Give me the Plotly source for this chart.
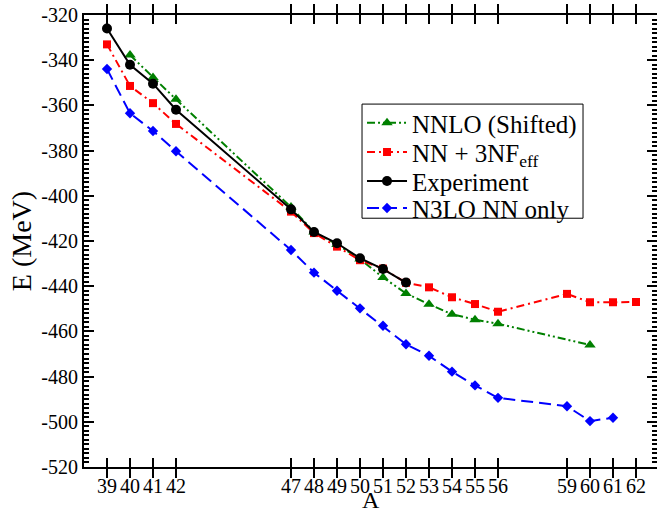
import plotly.graph_objects as go

# ---- data ----
A_exp = [39, 40, 41, 42, 47, 48, 49, 50, 51, 52]
E_exp = [-326.0, -342.0, -350.4, -361.9, -406.0, -416.0, -421.0, -427.6, -432.4, -438.4]

A_nnlo = [40, 41, 42, 47, 48, 49, 50, 51, 52, 53, 54, 55, 56, 60]
E_nnlo = [-337.7, -347.6, -357.3, -405.0, -416.0, -421.5, -428.0, -436.1, -443.2,
          -448.0, -452.4, -454.8, -456.6, -466.0]

A_3nf = [39, 40, 41, 42, 47, 48, 49, 50, 51, 52, 53, 54, 55, 56, 59, 60, 61, 62]
E_3nf = [-333.0, -351.4, -359.0, -368.2, -407.0, -416.5, -422.5, -428.5, -432.2, -438.5,
         -440.5, -444.9, -447.9, -451.3, -443.4, -447.1, -447.1, -447.0]

A_n3lo = [39, 40, 41, 42, 47, 48, 49, 50, 51, 52, 53, 54, 55, 56, 59, 60, 61]
E_n3lo = [-343.9, -363.5, -371.3, -380.3, -424.0, -434.0, -442.0, -449.8, -457.5, -465.7,
          -470.8, -477.8, -483.9, -489.4, -493.1, -499.7, -498.2]

x_ticks = [39, 40, 41, 42, 47, 48, 49, 50, 51, 52, 53, 54, 55, 56, 59, 60, 61, 62]
x_ticktext = [str(v) for v in x_ticks]
y_ticks = [-320, -340, -360, -380, -400, -420, -440, -460, -480, -500, -520]
y_ticktext = ["-320", "-340", "-360", "-380", "-400", "-420", "-440", "-460", "-480", "-500", "-520"]

FONT = "Liberation Serif"

# legend layout (paper coordinates)
LEG_X = 0.4852
LEG_ROWS = [0.7608, 0.6966, 0.6323, 0.5725]

fig = go.Figure()
fig.add_trace(go.Scatter(
    x=A_nnlo, y=E_nnlo, mode="lines+markers", name="NNLO (Shifted)", legend="legend",
    line=dict(color="#008000", width=2, dash="8px,3px,2px,3px,2px,3px"),
    marker=dict(symbol="triangle-up", size=10, color="#008000")))
fig.add_trace(go.Scatter(
    x=A_3nf, y=E_3nf, mode="lines+markers", name="NN + 3NF<sub>eff</sub>", legend="legend2",
    line=dict(color="#ff0000", width=2, dash="8px,4px,2px,4px"),
    marker=dict(symbol="square", size=8, color="#ff0000")))
fig.add_trace(go.Scatter(
    x=A_exp, y=E_exp, mode="lines+markers", name="Experiment", legend="legend3",
    line=dict(color="#000000", width=2),
    marker=dict(symbol="circle", size=10, color="#000000")))
fig.add_trace(go.Scatter(
    x=A_n3lo, y=E_n3lo, mode="lines+markers", name="N3LO NN only", legend="legend4",
    line=dict(color="#0000ff", width=2, dash="12px,6px"),
    marker=dict(symbol="diamond", size=8, color="#0000ff")))
# invisible helper trace for the right-hand tick axis
fig.add_trace(go.Scatter(x=[50], y=[-420], yaxis="y2", mode="markers",
                         marker=dict(opacity=0), showlegend=False, hoverinfo="skip"))


def leg(yc):
    return dict(x=LEG_X, y=yc, xanchor="left", yanchor="middle", borderwidth=0,
                bgcolor="rgba(0,0,0,0)", itemwidth=40,
                font=dict(family=FONT, size=25, color="black"))


fig.update_layout(
    width=657, height=509,
    margin=dict(l=84, r=0, t=15, b=42, autoexpand=False),
    paper_bgcolor="white", plot_bgcolor="white",
    font=dict(family=FONT, color="black", size=20),
    showlegend=True,
    legend=leg(LEG_ROWS[0]), legend2=leg(LEG_ROWS[1]),
    legend3=leg(LEG_ROWS[2]), legend4=leg(LEG_ROWS[3]),
    shapes=[dict(type="rect", xref="paper", yref="paper", x0=0.4852, x1=0.8709,
                 y0=0.5504, y1=0.8029, line=dict(color="black", width=1),
                 fillcolor="white", layer="below")],
    annotations=[dict(text="A", xref="paper", yref="paper", x=0.5, y=-0.073,
                      xanchor="center", yanchor="middle", showarrow=False,
                      font=dict(family=FONT, size=24, color="black"))],
    xaxis=dict(range=[38, 62.913], tickmode="array", tickvals=x_ticks, ticktext=x_ticktext,
               ticks="inside", ticklen=9, tickwidth=2, tickcolor="black",
               showline=True, linewidth=2, linecolor="black", mirror="allticks",
               showgrid=False, zeroline=False, automargin=False,
               tickfont=dict(family=FONT, size=20)),
    yaxis=dict(range=[-520, -320], tickmode="array", tickvals=y_ticks, ticktext=y_ticktext,
               ticks="inside", ticklen=10, tickwidth=2, tickcolor="black",
               minor=dict(dtick=2, tick0=-520, ticks="inside", ticklen=5, tickwidth=1.5, tickcolor="black"),
               showline=True, linewidth=2, linecolor="black", mirror=False,
               showgrid=False, zeroline=False, automargin=False,
               tickfont=dict(family=FONT, size=20),
               title=dict(text="E (MeV)", font=dict(family=FONT, size=28), standoff=2)),
    yaxis2=dict(range=[-520, -320], overlaying="y", side="right", anchor="x",
                tickmode="array", tickvals=y_ticks, showticklabels=False,
                ticks="inside", ticklen=10, tickwidth=2, tickcolor="black",
                minor=dict(dtick=2, tick0=-520, ticks="inside", ticklen=5, tickwidth=1.5, tickcolor="black"),
                showline=False, showgrid=False, zeroline=False, automargin=False),
)

fig.write_html("out.html")
